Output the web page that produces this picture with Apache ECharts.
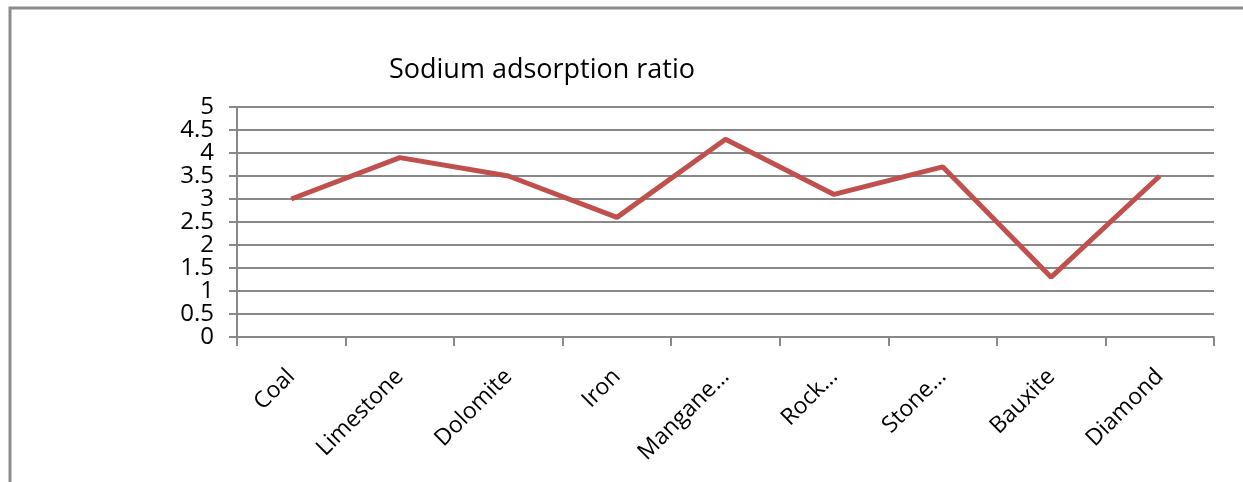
<!DOCTYPE html>
<html><head><meta charset="utf-8">
<script src="https://cdn.jsdelivr.net/npm/echarts@6/dist/echarts.min.js"></script>
<style>html,body{margin:0;padding:0;background:#fff}#c{width:1243px;height:482px}</style>
</head><body><div id="c"></div>
<script>
const categories = ["Coal","Limestone","Dolomite","Iron","Mangane…","Rock…","Stone…","Bauxite","Diamond"];
const sarValues = [3.0, 3.9, 3.5, 2.6, 4.3, 3.1, 3.7, 1.3, 3.5];
const titleText = "Sodium adsorption ratio";
const yMin = 0, yMax = 5, yStep = 0.5;

const chart = echarts.init(document.getElementById('c'));
const fontFam = '"Open Sans", "Liberation Sans", sans-serif';
const yLabelBase = {fontFamily: fontFam, fontSize: 24, color: '#000', margin: 23,
  showMinLabel: true, showMaxLabel: true, hideOverlap: false};
chart.setOption({
  animation: false,
  backgroundColor: '#fff',
  graphic: [{
    type: 'rect', shape: {x: 10, y: 8, width: 1300, height: 600},
    style: {fill: 'none', stroke: '#8c8c8c', lineWidth: 3}, z: -1
  }],
  title: {
    text: titleText, left: 537, top: 52, textAlign: 'center',
    textStyle: {fontFamily: fontFam, fontSize: 27, fontWeight: 'normal', color: '#000'}
  },
  grid: {left: 237, right: 29, top: 107, bottom: 145, containLabel: false},
  xAxis: {
    type: 'category', data: categories, boundaryGap: true,
    axisLine: {lineStyle: {color: '#888', width: 2}},
    axisTick: {show: true, length: 9, lineStyle: {color: '#888', width: 2}},
    axisLabel: {rotate: 45, fontFamily: fontFam, fontSize: 23, color: '#000', margin: 36, interval: 0, hideOverlap: false}
  },
  yAxis: [{
    type: 'value', min: yMin, max: yMax, interval: yStep, position: 'left',
    axisLine: {show: true, lineStyle: {color: '#888', width: 2}},
    axisTick: {show: true, length: 8, lineStyle: {color: '#888', width: 2}},
    splitLine: {lineStyle: {color: '#888', width: 2}},
    axisLabel: Object.assign({}, yLabelBase, {formatter: v => (Math.round(v * 2) % 2 === 0 ? String(v) : '')})
  }, {
    type: 'value', min: yMin, max: yMax, interval: yStep, position: 'left', offset: 0,
    axisLine: {show: false}, axisTick: {show: false}, splitLine: {show: false},
    axisLabel: Object.assign({}, yLabelBase, {formatter: v => (Math.round(v * 2) % 2 === 1 ? String(v) : '')})
  }],
  series: [{
    type: 'line', data: sarValues, symbol: 'none', yAxisIndex: 0,
    lineStyle: {color: '#C0504D', width: 5}, itemStyle: {color: '#C0504D'}
  }]
});
</script></body></html>
